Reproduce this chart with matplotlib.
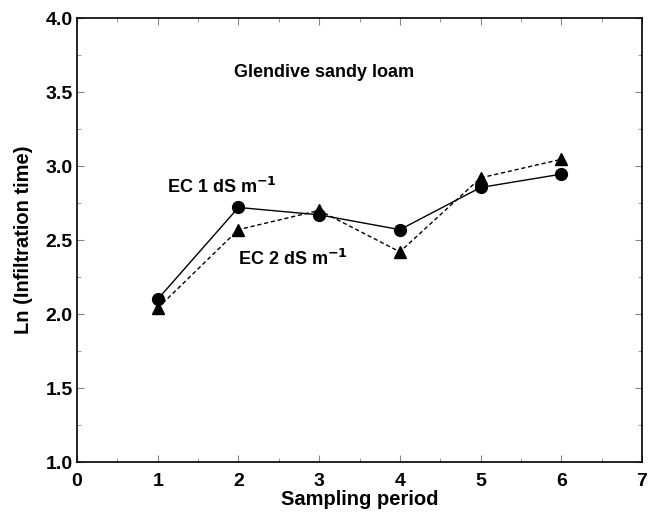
import matplotlib.pyplot as plt
from matplotlib.ticker import MultipleLocator

plt.rcParams["font.family"] = ["Liberation Sans", "DejaVu Sans"]

period = [1, 2, 3, 4, 5, 6]
ec1 = [2.10, 2.72, 2.67, 2.57, 2.855, 2.945]
ec2 = [2.04, 2.57, 2.70, 2.42, 2.92, 3.045]

fig = plt.figure(figsize=(6.56, 5.13), dpi=100)
ax = fig.add_axes([0.1174, 0.0994, 0.8613, 0.8655])

ax.plot(period, ec1, color="black", lw=1.0, marker="o", ms=8.5)
ax.plot(period, ec2, color="black", lw=1.0, ls=(0, (3, 2)), marker="^", ms=8)

ax.text(1.12, 2.86, r"EC 1 dS m$^{\mathbf{-1}}$", fontsize=13, fontweight="bold", va="center")
ax.text(2.0, 2.37, r"EC 2 dS m$^{\mathbf{-1}}$", fontsize=13, fontweight="bold", va="center")
ax.text(3.06, 3.63, "Glendive sandy loam", fontsize=13, fontweight="bold", ha="center", va="center")

ax.set_xlim(0, 7)
ax.set_ylim(1.0, 4.0)
ax.xaxis.set_major_locator(MultipleLocator(1))
ax.xaxis.set_minor_locator(MultipleLocator(0.5))
ax.yaxis.set_major_locator(MultipleLocator(0.5))
ax.yaxis.set_minor_locator(MultipleLocator(0.25))
ax.yaxis.set_major_formatter(plt.FuncFormatter(lambda y, _: f"{y:.1f}"))
ax.tick_params(which="both", direction="in", top=True, right=True, color="#888888")
ax.tick_params(which="major", length=5, labelsize=14)
ax.tick_params(axis="x", which="major", pad=8)
ax.tick_params(axis="y", which="major", pad=3)
ax.tick_params(which="minor", length=3)
for lab in ax.get_xticklabels() + ax.get_yticklabels():
    lab.set_fontweight("bold")
for sp in ax.spines.values():
    sp.set_linewidth(1.2)

ax.set_xlabel("Sampling period", fontsize=14.5, fontweight="bold", labelpad=0)
ax.set_ylabel("Ln (Infiltration time)", fontsize=14.5, fontweight="bold", labelpad=9)

fig.savefig("out.png", dpi=100)
